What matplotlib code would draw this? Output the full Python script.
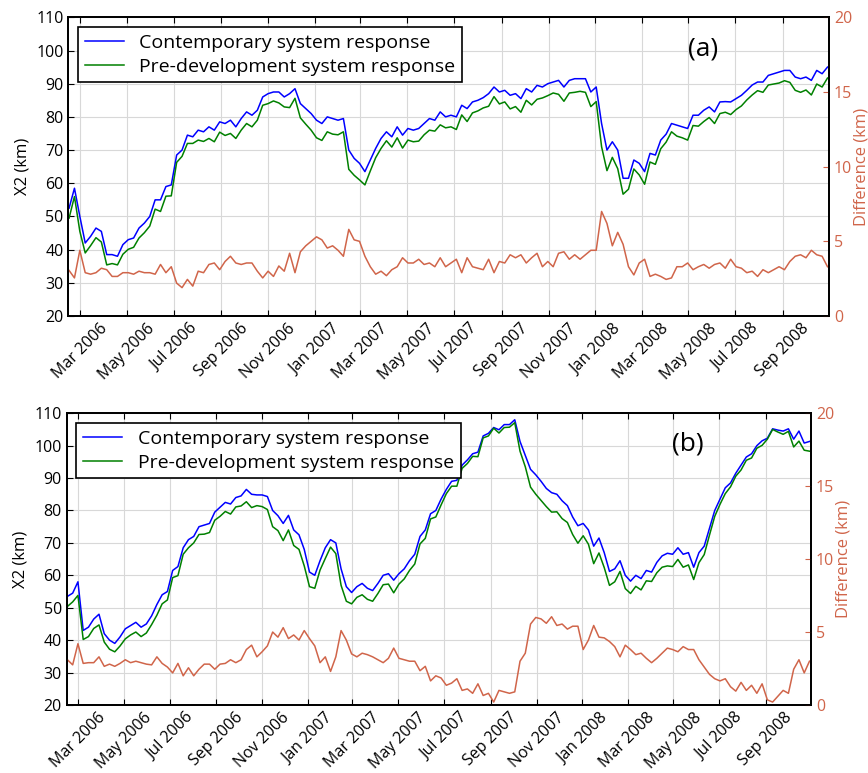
import numpy as np
import pandas as pd
import matplotlib
matplotlib.use("Agg")
import matplotlib.pyplot as plt
import matplotlib.dates as mdates

plt.rcParams['font.family'] = ['Open Sans', 'DejaVu Sans']

# weekly samples starting 15 Feb 2006
dates = pd.date_range('2006-02-15', periods=142, freq='7D')

# panel (a)
a_contemp = [52.5, 58.5, 50, 42, 44, 46.5, 45.5, 38.5, 38.5, 38, 41.5, 43, 43.5, 46.5, 48, 50, 55, 55, 59, 59.5,
             68.5, 70, 74.5, 74, 76, 75.5, 77, 76, 78.5, 78, 79, 77, 79.5, 81.5,
             80.5, 82, 86, 87, 87.5, 87.5, 86, 87, 88.5, 84, 82.5, 81, 79, 78, 80, 79.5, 79, 79.5, 70, 67.5, 66,
             63.5, 67, 70.5, 73.5, 75.5, 74, 77, 74.5, 76.5, 76, 76.5, 78, 79.5, 79, 81.5, 80,
             80.5, 80, 83.5, 82.5, 84.5, 85, 85.8, 87, 89, 87.5, 88, 86.5, 87, 85.5, 88.5, 87.5, 89.5, 89, 90,
             90.5, 91, 89, 91, 91.5, 91.5, 91.5, 87.5, 89, 78, 70, 72.5, 70, 61.5, 61.5, 67, 66, 63.5,
             69, 68.5, 73, 74.8, 78, 77.5, 77, 76.5, 80.5, 80.5, 82, 83, 81.5, 84.5, 84.6, 84.5, 85.5, 86.5,
             88, 89.6, 90.5, 90.5, 92.5, 93, 93.5, 94, 94, 92, 91.5, 92, 91, 94, 93, 95]
a_predev = [49.5, 56, 45.5, 39, 41.2, 43.6, 42.3, 35.4, 35.8, 35.4, 38.6, 40.1, 40.7, 43.5, 45.1, 47.1, 52.2, 51.5,
            56.1, 56.2, 66.3, 68.1, 72, 72, 73, 72.6, 73.5, 72.5, 75.4, 74.4, 75, 73.5, 76, 78,
            77, 79, 83.5, 84, 84.8, 84.2, 83, 82.8, 85.6, 79.7, 77.8, 76, 73.7, 72.9, 75.5, 74.8, 74.6, 75.5,
            64.2, 62.4, 61, 59.5, 63.7, 67.7, 70.5, 72.8, 70.9, 73.7, 70.6, 73, 72.5, 72.7, 74.6, 76, 75.7,
            77.6, 76.7,
            77, 76.2, 80.6, 78.6, 81.2, 81.8, 82.7, 83.2, 86.1, 83.9, 84.5, 82.4, 83.1, 81.4, 85, 83.6, 85.3,
            85.7, 86.4, 87.2, 86.8, 84.7, 87.2, 87.4, 87.7, 87.4, 83.1, 84.6, 71, 63.8, 67.8, 64.4, 56.7, 58.2,
            64.3, 62.5, 59.7,
            66.4, 65.7, 70.4, 72.4, 75.5, 74.2, 73.7, 73, 77.4, 77.2, 78.6, 79.8, 78, 81, 81.4, 80.7, 82.2,
            83.3, 85.1, 86.6, 87.9, 87.4, 89.6, 89.9, 90.2, 90.9, 90.4, 88, 87.4, 88.1, 86.6, 89.9, 89, 91.7]
a_diff = [3.05, 2.55, 4.4, 2.9, 2.8, 2.9, 3.2, 3.1, 2.65, 2.65, 2.9, 2.9, 2.8, 3.0, 2.9, 2.9, 2.8, 3.45, 2.9, 3.3,
          2.2, 1.9, 2.45, 2.0, 3.0, 2.9, 3.45, 3.55, 3.1, 3.65, 4.0, 3.55, 3.45, 3.55,
          3.55, 3.0, 2.55, 3.0, 2.65, 3.35, 3.0, 4.2, 2.9, 4.3, 4.7, 5.0, 5.3, 5.1, 4.55, 4.7, 4.4, 4.0, 5.8,
          5.1, 5.0, 4.0, 3.3, 2.8, 3.0, 2.7, 3.1, 3.3, 3.9, 3.55, 3.55, 3.8, 3.45, 3.55, 3.3, 3.9, 3.3,
          3.55, 3.8, 2.9, 3.9, 3.3, 3.2, 3.1, 3.8, 2.9, 3.65, 3.55, 4.1, 3.9, 4.1, 3.55, 3.9, 4.2, 3.3, 3.65,
          3.3, 4.2, 4.3, 3.8, 4.1, 3.8, 4.1, 4.4, 4.4, 7.0, 6.2, 4.7, 5.6, 4.8, 3.3, 2.75, 3.55, 3.8,
          2.65, 2.8, 2.65, 2.45, 2.55, 3.3, 3.3, 3.55, 3.1, 3.3, 3.45, 3.2, 3.45, 3.55, 3.2, 3.8, 3.3, 3.2,
          2.9, 3.0, 2.65, 3.1, 2.9, 3.1, 3.3, 3.1, 3.65, 4.0, 4.1, 3.9, 4.4, 4.1, 4.0, 3.3]

# panel (b)
b_contemp = [53.5, 54.5, 58, 43, 44, 46.5, 48, 42, 40, 39, 41, 43.5, 44.5, 45.5, 44, 45, 47.5, 51, 54, 55,
             61.5, 62.7, 68.5, 71, 72, 75, 75.5, 76, 79.5, 81, 82.5, 82, 84, 84.5,
             86.5, 85, 84.8, 84.8, 84.3, 80, 78.4, 76, 78.5, 74, 72.5, 68, 61, 60, 64.5, 68.5, 71, 70, 62,
             56.5, 54.7, 56.5, 57.5, 56, 55.3, 57.5, 60, 60.5, 58.5, 60.5, 62, 64.5, 66.5, 72, 74, 79, 80,
             83.5, 86.5, 89, 89.3, 94, 95.6, 97.5, 98, 103, 103.8, 105.6, 104.9, 106.5, 106.5, 108, 101.3, 97,
             92.7, 91, 89, 86.8, 85.5, 85, 83, 81.5, 78, 75.3, 76, 74, 69, 71.5, 67, 61.2, 62, 64.5, 60, 58.2,
             60, 59, 61.5, 61, 64, 66, 66.8, 66.5, 68.5, 66.5, 67, 62.5, 67, 69, 74.5, 80, 83.5, 87, 88.5,
             91.5, 94, 96.5, 97.5, 100, 101.5, 102.3, 105.2, 104.8, 104.5, 105.2, 102, 104.5, 100.8, 101.3]
b_predev = [50.4, 51.8, 53.8, 40.2, 41.1, 43.6, 44.7, 39.4, 37.2, 36.4, 38.2, 40.4, 41.6, 42.5, 41.1, 42.2, 44.8,
            47.7, 51.2, 52.4, 59.3, 59.9, 66.5, 68.5, 70, 72.6, 72.7, 73.2, 77, 78.2, 79.7, 78.9, 81.1, 81.4,
            82.7, 80.9, 81.5, 81.2, 80.3, 75, 73.8, 70.7, 74, 69.2, 68, 62.9, 56.5, 56, 61.6, 65.2, 68.7, 66.7,
            56.9, 52, 51.2, 53.2, 54, 52.6, 52, 54.4, 57.1, 57.3, 54.6, 57.3, 58.9, 61.5, 63.5, 69.7, 71.4,
            77.4, 78,
            81.7, 85.2, 87.5, 87.5, 93, 94.5, 96.7, 96.6, 102.4, 103, 105.4, 103.9, 105.6, 105.7, 107.1, 98.3,
            93.5, 87.2, 85, 83.1, 81.2, 79.5, 79.6, 77.5, 76.3, 72.6, 69.9, 72.2, 69.6, 63.6, 66.9, 62.4, 56.9,
            58, 61.2, 55.9, 54.4,
            56.6, 55.5, 58.3, 58.1, 60.8, 62.5, 62.9, 62.7, 64.9, 62.5, 63.2, 58.7, 63.9, 66.4, 72.4, 78.2,
            81.9, 85.2, 87.3, 90.6, 92.5, 95.5, 96.2, 99.2, 100.1, 102, 105, 104.2, 103.5, 104.4, 99.6, 101.4,
            98.6, 98.3]
b_diff = [3.1, 2.75, 4.2, 2.85, 2.9, 2.9, 3.3, 2.65, 2.8, 2.65, 2.85, 3.1, 2.9, 3.0, 2.9, 2.8, 2.75, 3.3, 2.85,
          2.6, 2.2, 2.85, 2.0, 2.55, 2.0, 2.45, 2.8, 2.8, 2.45, 2.8, 2.85, 3.1, 2.9, 3.1,
          3.8, 4.1, 3.3, 3.65, 4.05, 5.0, 4.65, 5.3, 4.55, 4.8, 4.45, 5.1, 4.55, 4.05, 2.9, 3.3, 2.3, 3.3,
          5.1, 4.45, 3.5, 3.3, 3.55, 3.45, 3.3, 3.1, 2.9, 3.2, 3.9, 3.2, 3.1, 3.0, 3.0, 2.35, 2.65, 1.65, 2.0,
          1.85, 1.35, 1.5, 1.8, 1.0, 1.1, 0.8, 1.45, 0.65, 0.8, 0.2, 1.0, 0.9, 0.8, 0.9, 3.0, 3.55, 5.55,
          6.0, 5.9, 5.6, 6.05, 5.45, 5.55, 5.2, 5.4, 5.4, 3.8, 4.45, 5.45, 4.65, 4.6, 4.35, 4.0, 3.3, 4.1, 3.8,
          3.45, 3.55, 3.2, 2.9, 3.2, 3.55, 3.9, 3.8, 3.65, 4.0, 3.8, 3.8, 3.1, 2.6, 2.1, 1.8, 1.65, 1.8,
          1.25, 0.95, 1.55, 1.0, 1.35, 0.8, 1.45, 0.35, 0.2, 0.6, 1.0, 0.8, 2.45, 3.1, 2.2, 3.0]

diff_color = '#d0654a'
xlim = (pd.Timestamp('2006-02-14'), pd.Timestamp('2008-10-31'))

fig = plt.figure(figsize=(8.68, 7.73), dpi=100)
ax_a = fig.add_axes([0.0787, 0.5912, 0.8764, 0.3864])
ax_b = fig.add_axes([0.0768, 0.0880, 0.8575, 0.3774])


def draw(ax, contemp, predev, diff, tag):
    ax.plot(dates, contemp, color='#0000ff', lw=1.1, label='Contemporary system response')
    ax.plot(dates, predev, color='#008000', lw=1.1, label='Pre-development system response')
    ax.set_xlim(*xlim)
    ax.set_ylim(20, 110)
    ax.set_yticks(range(20, 111, 10))
    ax.set_ylabel('X2 (km)', fontsize=12)
    ax.grid(True, color='#d8d8d8', lw=0.8)
    ax.set_axisbelow(True)
    ax.xaxis.set_major_locator(mdates.MonthLocator(bymonth=[1, 3, 5, 7, 9, 11]))
    ax.xaxis.set_major_formatter(mdates.DateFormatter('%b %Y'))
    ax.tick_params(axis='x', direction='in', top=True, labelsize=11.5, labelrotation=45, length=4)
    ax.tick_params(axis='y', direction='in', labelsize=11.5, length=4)
    for lab in ax.get_xticklabels():
        lab.set_ha('center')
    for s in ax.spines.values():
        s.set_linewidth(1.3)
    leg = ax.legend(loc='upper left', fontsize=14, fancybox=False, framealpha=1,
                    edgecolor='black', handlelength=2.0, borderpad=0.35, labelspacing=0.3)
    leg.get_frame().set_linewidth(1.2)
    ax.text(0.835, 0.895, tag, transform=ax.transAxes, fontsize=19, ha='center', va='center')

    axr = ax.twinx()
    axr.plot(dates, diff, color=diff_color, lw=1.1)
    axr.set_ylim(0, 20)
    axr.set_yticks([0, 5, 10, 15, 20])
    axr.set_ylabel('Difference (km)', color=diff_color, fontsize=12, labelpad=1)
    axr.tick_params(axis='y', direction='in', colors=diff_color, labelsize=11.5, length=4)
    axr.spines['right'].set_color('black')
    for s in axr.spines.values():
        s.set_linewidth(1.3)
    axr.set_xlim(*xlim)


draw(ax_a, a_contemp, a_predev, a_diff, '(a)')
draw(ax_b, b_contemp, b_predev, b_diff, '(b)')

fig.savefig('out.png', dpi=100)
